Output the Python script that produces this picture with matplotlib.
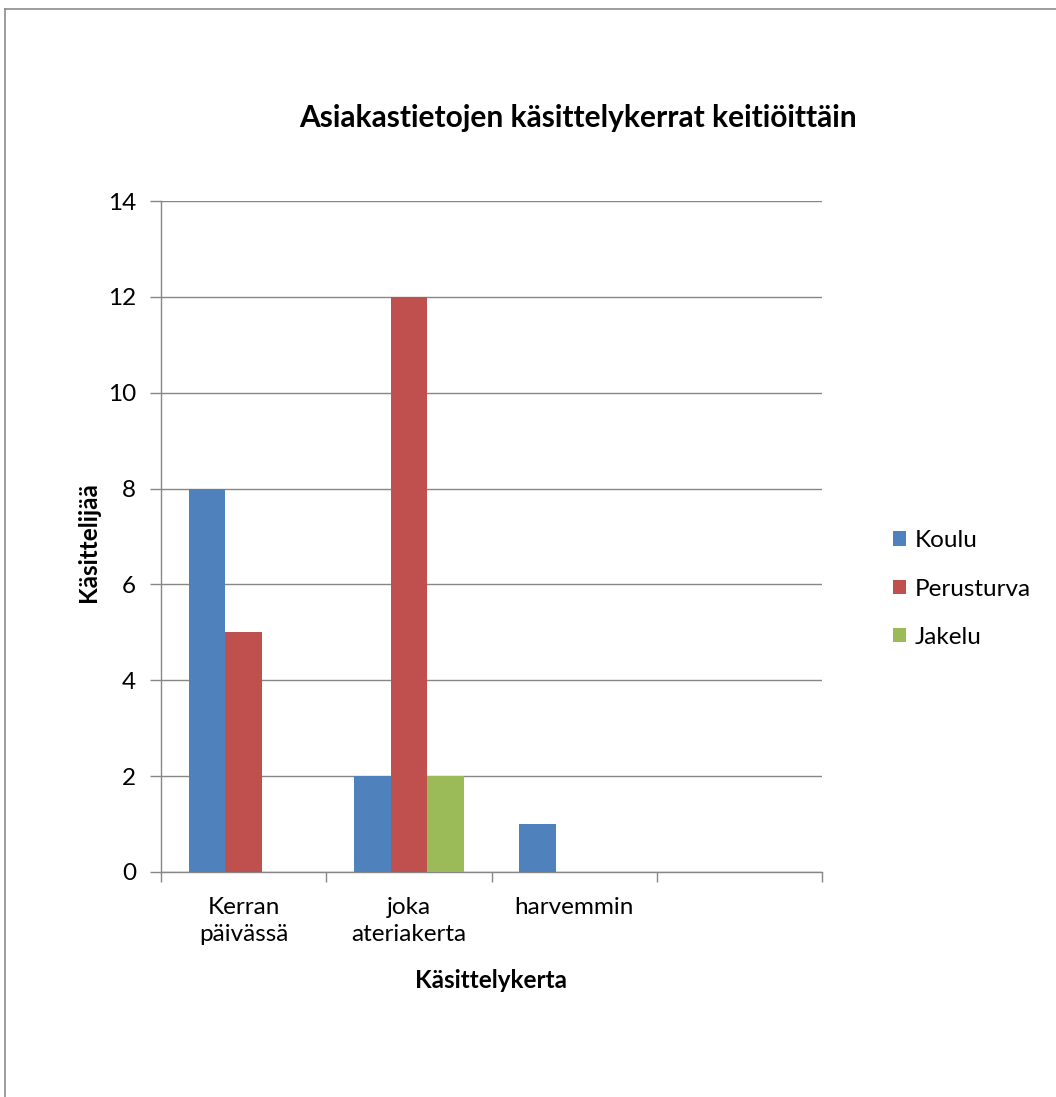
import matplotlib
matplotlib.use("Agg")
import matplotlib.pyplot as plt
from matplotlib.lines import Line2D
import numpy as np

categories = ["Kerran\npäivässä", "joka\nateriakerta", "harvemmin", ""]
series_names = ["Koulu", "Perusturva", "Jakelu"]
koulu = [8, 2, 1, 0]
perusturva = [5, 12, 0, 0]
jakelu = [0, 2, 0, 0]
y_ticks = [0, 2, 4, 6, 8, 10, 12, 14]

colors = ["#4F81BD", "#C0504D", "#9BBB59"]
grid_color = "#868686"

plt.rcParams["font.family"] = ["Lato", "DejaVu Sans"]
FS = 17.5

W, H = 1056, 1097
fig = plt.figure(figsize=(W / 100, H / 100), dpi=100)

# outer chart frame: top and left edges (the rest lies outside the canvas)
frame_kw = dict(transform=fig.transFigure, color="#8c8c8c", linewidth=1.2)
fig.lines.append(Line2D([4.5 / W, 1.0], [1 - 9 / H, 1 - 9 / H], **frame_kw))
fig.lines.append(Line2D([4.5 / W, 4.5 / W], [0.0, 1 - 9 / H], **frame_kw))

L, R, T, B = 161, 822, 201, 872
ax = fig.add_axes([L / W, 1 - B / H, (R - L) / W, (B - T) / H])

x = np.arange(len(categories))
w = 1 / 4.5
for i, (vals, name) in enumerate(zip([koulu, perusturva, jakelu], series_names)):
    ax.bar(x + (i - 1) * w, vals, width=w, color=colors[i], label=name,
           zorder=3, linewidth=0)

ax.set_xlim(-0.5, len(categories) - 0.5)
ax.set_ylim(0, 14)
ax.set_yticks(y_ticks)
ax.yaxis.grid(True, color=grid_color, linewidth=1, zorder=0)
ax.set_axisbelow(True)

for side in ["top", "right"]:
    ax.spines[side].set_visible(False)
for side in ["left", "bottom"]:
    ax.spines[side].set_color(grid_color)
    ax.spines[side].set_linewidth(1)

# category labels centred under groups, tick marks on boundaries
ax.set_xticks(np.arange(-0.5, len(categories), 1.0))
ax.set_xticklabels([])
ax.set_xticks(x, minor=True)
ax.set_xticklabels(categories, minor=True, fontsize=FS, linespacing=1.38)
ax.tick_params(axis="x", which="minor", length=0, pad=18)
ax.tick_params(axis="x", which="major", length=7, color=grid_color, width=1)
ax.tick_params(axis="y", length=8, color=grid_color, width=1, labelsize=FS, pad=10)

ax.set_xlabel("Käsittelykerta", fontsize=FS, fontweight="bold")
ax.xaxis.set_label_coords((491 - L) / (R - L), (B - 980) / (B - T))
ax.xaxis.label.set_va("center")
ax.set_ylabel("Käsittelijää", fontsize=FS, fontweight="bold")
ax.yaxis.set_label_coords((88 - L) / (R - L), (B - 542) / (B - T))
ax.yaxis.label.set_va("center")

fig.text(578 / W, 1 - 118 / H, "Asiakastietojen käsittelykerrat keitiöittäin",
         ha="center", va="center", fontsize=21.5, fontweight="bold")

ax.legend(loc="center left", bbox_to_anchor=(893 / W, 1 - 589 / H),
          bbox_transform=fig.transFigure, frameon=False, fontsize=FS,
          handlelength=0.55, handleheight=0.55, handletextpad=0.35,
          labelspacing=1.12, borderaxespad=0, borderpad=0)

fig.savefig("out.png", dpi=100, facecolor="white")
